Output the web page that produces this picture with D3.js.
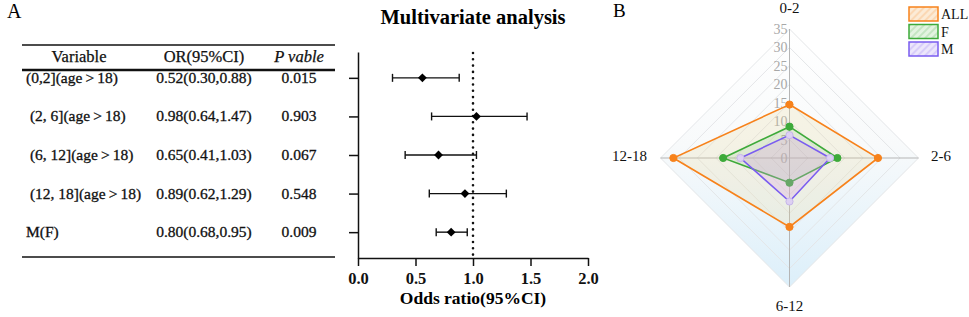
<!DOCTYPE html>
<html>
<head>
<meta charset="utf-8">
<script src="https://cdn.jsdelivr.net/npm/d3@7"></script>
<style>
  body { margin: 0; background: #fff; }
  svg text { font-family: "Liberation Serif", "Times New Roman", serif; }
</style>
</head>
<body>
<svg id="chart" width="969" height="317"></svg>
<script>
// ---- panel A: forest plot data ----
const variables = ['(0,2](age\u2009>\u200918)', ' (2, 6](age\u2009>\u200918)', ' (6, 12](age\u2009>\u200918)', ' (12, 18](age\u2009>\u200918)', 'M(F)'];
const orText = ['0.52(0.30,0.88)', '0.98(0.64,1.47)', '0.65(0.41,1.03)', '0.89(0.62,1.29)', '0.80(0.68,0.95)'];
const pText = ['0.015', '0.903', '0.067', '0.548', '0.009'];
// marker positions as plotted in the figure
const orPoint = [0.56, 1.03, 0.70, 0.93, 0.81];
const ciLow = [0.30, 0.64, 0.41, 0.62, 0.68];
const ciHigh = [0.88, 1.47, 1.03, 1.29, 0.95];
const xTicks = [0, 0.5, 1.0, 1.5, 2.0];

// ---- panel B: radar data ----
const radarAxes = ['0-2', '2-6', '6-12', '12-18'];
const radarSeries = ['ALL', 'F', 'M'];
const allValues = [14.5, 24, 18.7, 31.5];
const fValues = [8.5, 13, 6.7, 18];
const mValues = [6.2, 11, 11.8, 13.3];
const radarTicks = [0, 5, 10, 15, 20, 25, 30, 35];

const svg = d3.select('#chart');

// panel letters
svg.append('text').attr('x', 7).attr('y', 18).attr('font-size', 20).text('A');
svg.append('text').attr('x', 613).attr('y', 17).attr('font-size', 19).text('B');

// ================= Table =================
const tableLeft = 22, tableRight = 335;
const colX = [26, 204, 299];

const y = d3.scalePoint()
    .domain(d3.range(variables.length))
    .range([52, 258])
    .padding(0.67);

svg.append('line').attr('x1', tableLeft).attr('x2', tableRight).attr('y1', 45).attr('y2', 45)
    .attr('stroke', '#111').attr('stroke-width', 1.5);
svg.append('line').attr('x1', tableLeft).attr('x2', tableRight).attr('y1', 70).attr('y2', 70)
    .attr('stroke', '#111').attr('stroke-width', 2.5);
svg.append('line').attr('x1', tableLeft).attr('x2', tableRight).attr('y1', 257).attr('y2', 257)
    .attr('stroke', '#111').attr('stroke-width', 1.5);

const header = svg.append('g').attr('font-size', 16.5).attr('fill', '#111')
    .attr('stroke', '#111').attr('stroke-width', 0.25);
header.append('text').attr('x', 79).attr('y', 62).attr('text-anchor', 'middle').text('Variable');
header.append('text').attr('x', colX[1]).attr('y', 62).attr('text-anchor', 'middle').text('OR(95%CI)');
header.append('text').attr('x', colX[2]).attr('y', 62).attr('text-anchor', 'middle')
    .attr('font-style', 'italic').text('P vable');

const rows = svg.append('g').attr('font-size', 15.5).attr('fill', '#111')
    .attr('stroke', '#111').attr('stroke-width', 0.3);
rows.selectAll('.var').data(variables).enter().append('text')
    .attr('x', colX[0]).attr('y', (d, i) => y(i) + 5)
    .attr('xml:space', 'preserve')
    .style('white-space', 'pre')
    .text(d => d);
rows.selectAll('.or').data(orText).enter().append('text')
    .attr('x', colX[1]).attr('y', (d, i) => y(i) + 5)
    .attr('text-anchor', 'middle')
    .text(d => d);
rows.selectAll('.p').data(pText).enter().append('text')
    .attr('x', colX[2]).attr('y', (d, i) => y(i) + 5)
    .attr('text-anchor', 'middle')
    .text(d => d);

// ================= Forest plot =================
const x = d3.scaleLinear().domain([0, 2]).range([358, 588]);

svg.append('text')
    .attr('x', 473).attr('y', 24)
    .attr('text-anchor', 'middle')
    .attr('font-size', 20.5).attr('font-weight', 'bold')
    .text('Multivariate analysis');

// reference line at OR = 1
svg.append('line')
    .attr('x1', x(1)).attr('x2', x(1)).attr('y1', 53).attr('y2', 258)
    .attr('stroke', '#111').attr('stroke-width', 2.6)
    .attr('stroke-linecap', 'round')
    .attr('stroke-dasharray', '0,6.3');

const yAxis = svg.append('g')
    .attr('transform', `translate(${x(0)},0)`)
    .call(d3.axisLeft(y).tickSize(9).tickSizeOuter(0).tickFormat(''));
yAxis.selectAll('path, line').attr('stroke', '#111').attr('stroke-width', 1.5);

const xAxis = svg.append('g')
    .attr('transform', 'translate(0,258)')
    .call(d3.axisBottom(x).tickValues(xTicks).tickSize(8).tickSizeOuter(0).tickPadding(6)
        .tickFormat(d3.format('.1f')));
xAxis.selectAll('path, line').attr('stroke', '#111').attr('stroke-width', 1.5);
xAxis.selectAll('text')
    .style('font-family', '"Liberation Serif", serif')
    .attr('font-size', 16.5).attr('font-weight', 'bold').attr('fill', '#111');

svg.append('text')
    .attr('x', 473).attr('y', 304)
    .attr('text-anchor', 'middle')
    .attr('font-size', 17.5).attr('font-weight', 'bold')
    .text('Odds ratio(95%CI)');

const bars = svg.append('g').attr('stroke', '#111').attr('stroke-width', 1.4);
bars.selectAll('.ci').data(ciLow).enter().append('line')
    .attr('x1', d => x(d)).attr('x2', (d, i) => x(ciHigh[i]))
    .attr('y1', (d, i) => y(i)).attr('y2', (d, i) => y(i));
bars.selectAll('.capL').data(ciLow).enter().append('line')
    .attr('x1', d => x(d)).attr('x2', d => x(d))
    .attr('y1', (d, i) => y(i) - 4).attr('y2', (d, i) => y(i) + 4);
bars.selectAll('.capH').data(ciHigh).enter().append('line')
    .attr('x1', d => x(d)).attr('x2', d => x(d))
    .attr('y1', (d, i) => y(i) - 4).attr('y2', (d, i) => y(i) + 4);

svg.append('g').selectAll('path').data(orPoint).enter().append('path')
    .attr('d', d3.symbol().type(d3.symbolDiamond2).size(50))
    .attr('transform', (d, i) => `translate(${x(d)},${y(i)})`)
    .attr('fill', '#000');

// ================= Radar =================
const cx = 789.5, cy = 158, R = 129;
const r = d3.scaleLinear().domain([0, 35]).range([0, R]);
const angle = i => -Math.PI / 2 + i * Math.PI / 2;
const pt = (i, v) => [cx + Math.cos(angle(i)) * r(v), cy + Math.sin(angle(i)) * r(v)];
const ring = v => radarAxes.map((a, i) => pt(i, v));
const line = d3.line().curve(d3.curveLinearClosed);

const defs = svg.append('defs');
const bg = defs.append('linearGradient').attr('id', 'radarBg')
    .attr('x1', 0).attr('x2', 0).attr('y1', 0).attr('y2', 1);
bg.append('stop').attr('offset', '0%').attr('stop-color', '#ffffff');
bg.append('stop').attr('offset', '45%').attr('stop-color', '#f8fafb');
bg.append('stop').attr('offset', '100%').attr('stop-color', '#dcefFa');

svg.append('path').attr('d', line(ring(35))).attr('fill', 'url(#radarBg)');

svg.append('g').selectAll('path').data(radarTicks.slice(1)).enter().append('path')
    .attr('d', d => line(ring(d)))
    .attr('fill', 'none')
    .attr('stroke', '#e4e6e8').attr('stroke-width', 1);

svg.append('g').selectAll('line').data(radarAxes).enter().append('line')
    .attr('x1', (d, i) => pt(i, 0)[0]).attr('y1', (d, i) => pt(i, 0)[1])
    .attr('x2', (d, i) => pt(i, 35)[0]).attr('y2', (d, i) => pt(i, 35)[1])
    .attr('stroke', '#b5b5b5').attr('stroke-width', 1);

svg.append('g').selectAll('text').data(radarTicks).enter().append('text')
    .attr('x', cx - 2).attr('y', d => cy - r(d) + 5)
    .attr('text-anchor', 'end')
    .attr('font-size', 14).attr('fill', '#a8a8a8')
    .text(d => d);

// axis names
const axisLabelPos = [
    { x: cx, y: 13, anchor: 'middle' },
    { x: 931, y: 161, anchor: 'start' },
    { x: cx, y: 311, anchor: 'middle' },
    { x: 647, y: 161, anchor: 'end' }
];
svg.append('g').selectAll('text').data(radarAxes).enter().append('text')
    .attr('x', (d, i) => axisLabelPos[i].x).attr('y', (d, i) => axisLabelPos[i].y)
    .attr('text-anchor', (d, i) => axisLabelPos[i].anchor)
    .attr('font-size', 15).attr('fill', '#111')
    .text(d => d);

const seriesValues = [allValues, fValues, mValues];
const stroke = ['#f7821b', '#3daa3a', '#7a5cf0'];
const areaFill = ['rgba(232,215,150,0.22)', 'rgba(120,190,120,0.16)', 'rgba(215,160,225,0.28)'];
const dotFill = ['#f7821b', '#3daa3a', '#ddd0f2'];
const dotStroke = ['#f7821b', '#3daa3a', '#c6b6ea'];

const series = svg.append('g').selectAll('g').data(radarSeries).enter().append('g');
series.append('path')
    .attr('d', (d, s) => line(seriesValues[s].map((v, i) => pt(i, v))))
    .attr('fill', (d, s) => areaFill[s])
    .attr('stroke', (d, s) => stroke[s]).attr('stroke-width', 1.6);
series.each(function (d, s) {
    d3.select(this).selectAll('circle').data(seriesValues[s]).enter().append('circle')
        .attr('cx', (v, i) => pt(i, v)[0]).attr('cy', (v, i) => pt(i, v)[1])
        .attr('r', 3.6)
        .attr('fill', dotFill[s]).attr('stroke', dotStroke[s]).attr('stroke-width', 1);
});

// legend with hatched swatches
const legendFill = ['#fcebd6', '#e3f3e0', '#ece6fb'];
radarSeries.forEach((name, s) => {
    const p = defs.append('pattern').attr('id', 'hatch' + s)
        .attr('patternUnits', 'userSpaceOnUse').attr('width', 5).attr('height', 5)
        .attr('patternTransform', 'rotate(-45)');
    p.append('rect').attr('width', 5).attr('height', 5).attr('fill', legendFill[s]);
    p.append('line').attr('x1', 0).attr('x2', 5).attr('y1', 1).attr('y2', 1)
        .attr('stroke', stroke[s]).attr('stroke-opacity', 0.3).attr('stroke-width', 1.2);
});
const legend = svg.append('g').selectAll('g').data(radarSeries).enter().append('g')
    .attr('transform', (d, s) => `translate(909,${7 + s * 17.5})`);
legend.append('rect').attr('width', 29).attr('height', 14)
    .attr('fill', (d, s) => `url(#hatch${s})`)
    .attr('stroke', (d, s) => stroke[s]).attr('stroke-width', 1.5);
legend.append('text').attr('x', 32).attr('y', 12)
    .attr('font-size', 14).attr('fill', '#111')
    .text(d => d);
</script>
</body>
</html>
